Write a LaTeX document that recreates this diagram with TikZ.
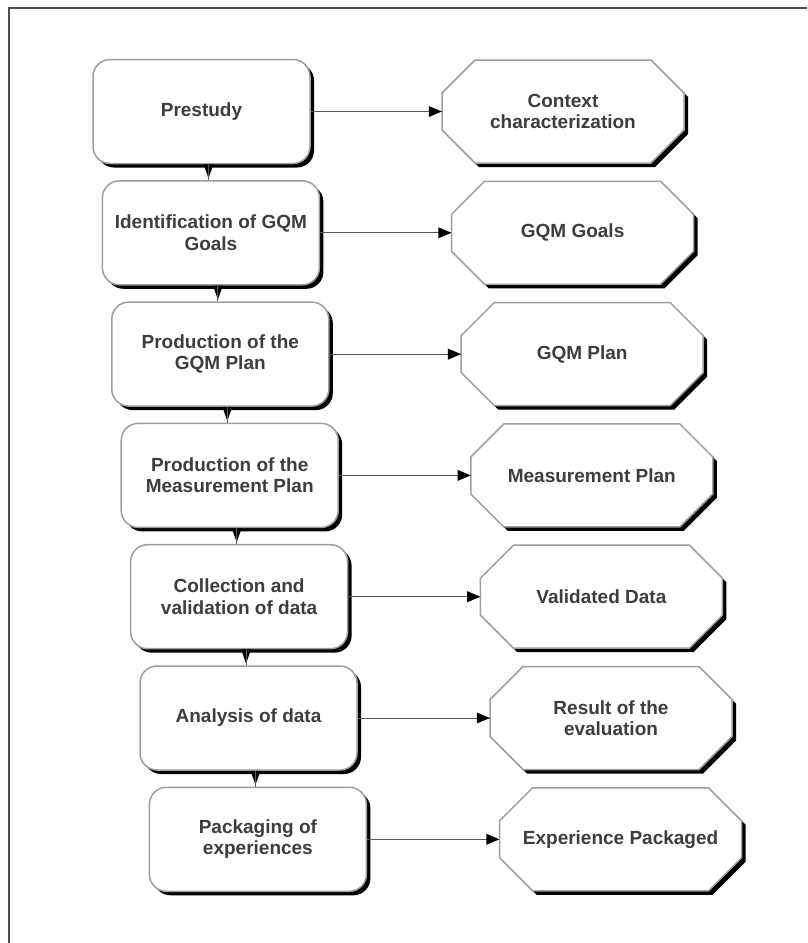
\documentclass[tikz,border=0pt]{standalone}
\usepackage{fontspec}
\setmainfont{Liberation Sans}
\usetikzlibrary{arrows}
\usetikzlibrary{decorations.markings}
\usetikzlibrary{shadows}
\definecolor{boxgray}{rgb}{0.62, 0.62, 0.62}
\definecolor{txtgray}{rgb}{0.24, 0.24, 0.24}
\definecolor{linegray}{rgb}{0.35, 0.35, 0.35}
\tikzset{flow/.style = {decoration={markings,
                                    mark=at position 1 with {\arrow[black, scale=1.5]{triangle 45}}},
                        postaction={decorate}}}
\tikzset{label/.style = {text=txtgray, align=center,
                         font=\bfseries\fontsize{19}{21.5}\selectfont}}
\tikzset{shade/.style = {drop shadow={shadow xshift=4pt, shadow yshift=-4pt,
                                      fill=black, opacity=1}}}
\tikzset{phase/.style = {label, shade, draw=boxgray, line width=1.5pt, fill=white,
                         rectangle, rounded corners=17pt,
                         minimum width=217pt, minimum height=104pt}}
\tikzset{octagon/.style = {shade, draw=boxgray, line width=1.5pt, fill=white}}
\tikzset{product/.style = {label, minimum width=242pt, minimum height=103pt}}

\begin{document}
\begin{tikzpicture}[x=1pt, y=-1pt]
    \useasboundingbox (0, 0) rectangle (807, 943);
    \draw [line width=1.5pt, black!70] (9, 943) -- (9, 8) -- (807, 8);
    \foreach \i/\l/\r in {1/Prestudy/{Context\\characterization},
                          2/{Identification of GQM\\Goals}/GQM Goals,
                          3/{Production of the\\GQM Plan}/GQM Plan,
                          4/{Production of the\\Measurement Plan}/Measurement Plan,
                          5/{Collection and\\validation of data}/Validated Data,
                          6/Analysis of data/{Result of the\\evaluation},
                          7/{Packaging of\\experiences}/Experience Packaged} {
      \node [phase] (p\i) at ({201.5 + 9.4*(\i-1)}, {111.5 + 121.3*(\i-1)}) {\l};
      \coordinate (c\i) at ({563 + 9.6*(\i-1)}, {111.5 + 121.3*(\i-1)});
      \path [octagon] (c\i) ++(-88, -51.5) -- ++(176, 0) -- ++(33, 33) -- ++(0, 37)
        -- ++(-33, 33) -- ++(-176, 0) -- ++(-33, -33) -- ++(0, -37) -- cycle;
      \node [product] (o\i) at (c\i) {\r};
    }
    % tails between the phases
    \foreach \i [count=\j from 2] in {1,...,6} {
      \coordinate (t\i) at ([xshift=7pt]p\i.south);
      \fill (t\i) ++(-5, 0) -- ++(10, 0) -- ++(-5, 14) -- cycle;
      \draw [linegray, line width=1pt] (t\i) -- (t\i |- p\j.north);
    }
    \foreach \i in {1,...,7} {
      \draw [flow, linegray, line width=1pt] (p\i.east) -- (o\i.west);
    }
  \end{tikzpicture}
\end{document}
